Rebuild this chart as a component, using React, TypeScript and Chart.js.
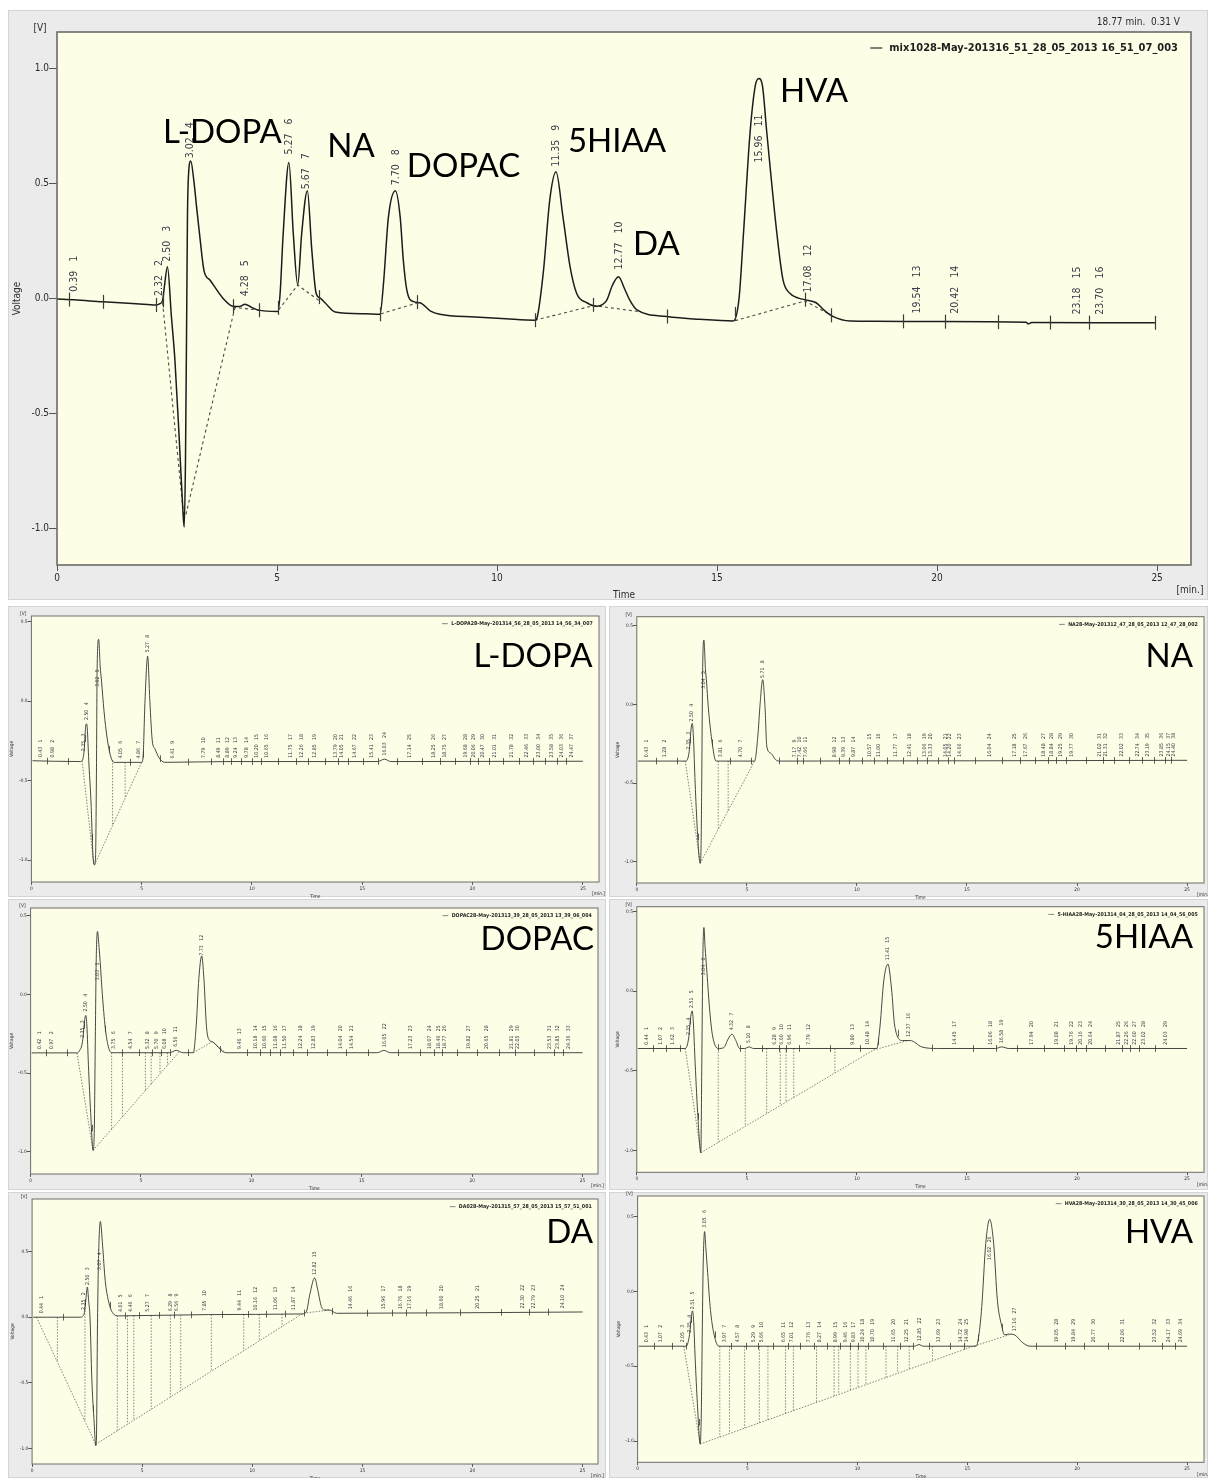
import React, { useEffect, useRef } from "react";
import { Chart, registerables } from "chart.js";

Chart.register(...registerables);

const COND = '"DejaVu Sans Condensed", "DejaVu Sans", sans-serif';
const NAME_FONT = 'Lato, "Open Sans", sans-serif';
const PANEL_BG = "#ebebeb";
const PLOT_BG = "#fefee7";
const INK = "#2b2b2b";

// Shared axis ticks: voltage [V] and retention time [min.]
const Y_TICKS = [-1.0, -0.5, 0.0, 0.5, 1.0];
const X_TICKS = [0, 5, 10, 15, 20, 25];

/* ---------- mixture run ---------- */
const MIX_TIME = [
  0.0, 0.39, 1.04, 1.8, 2.25, 2.34, 2.4, 2.44, 2.51, 2.6, 2.68, 2.78, 2.86, 2.89, 2.92,
  2.95, 2.965, 2.99, 3.04, 3.11, 3.17, 3.25, 3.34, 3.48, 3.77, 4.0, 4.15, 4.27, 4.42, 4.57, 5.02, 5.07, 5.14,
  5.27, 5.37, 5.47, 5.56, 5.69, 5.79, 5.89, 5.98, 6.09, 6.32, 7.0, 7.34, 7.42, 7.53, 7.69, 7.8, 7.87, 7.95,
  8.1, 8.25, 8.48, 8.7, 9.5, 10.2, 10.86, 10.9, 11.05, 11.2, 11.34, 11.5, 11.66, 11.81, 12.04, 12.27, 12.49,
  12.62, 12.76, 12.9, 13.02, 13.17, 13.86, 14.6, 15.37, 15.5, 15.6, 15.75, 15.87, 15.95, 16.03, 16.13, 16.36,
  16.5, 16.66, 16.85, 17.08, 17.25, 17.45, 17.64, 18.02, 18.6, 20.0, 22.02, 22.08, 22.15, 24.95,
];
const MIX_VOLT = [
  -0.004, -0.007, -0.016, -0.024, -0.03, -0.024, -0.01, 0.05, 0.136, -0.08, -0.27, -0.62, -0.92, -0.995, -0.7,
  0.0, 0.36, 0.54, 0.596, 0.51, 0.4, 0.26, 0.12, 0.078, 0.0, -0.035, -0.036, -0.026,
  -0.04, -0.052, -0.058, 0.02, 0.28, 0.59, 0.28, 0.057, 0.28, 0.467, 0.21, 0.02, 0.0, -0.02, -0.06, -0.068,
  -0.07, 0.065, 0.35, 0.467, 0.35, 0.165, 0.035, -0.015, -0.02, -0.055, -0.07, -0.082, -0.09, -0.096, -0.09,
  0.11, 0.43, 0.549, 0.35, 0.136, 0.02, -0.02, -0.035, -0.01, 0.055, 0.093, 0.04, -0.01, -0.05, -0.08,
  -0.092, -0.099, 0.0, 0.28, 0.72, 0.925, 0.955, 0.925, 0.72, 0.28, 0.078, 0.02, 0.0, -0.01, -0.02, -0.055,
  -0.08, -0.099, -0.1, -0.102, -0.105, -0.112, -0.106, -0.107,
];
const MIX_BASELINES = [
  [[2.4, -0.02], [2.89, -0.97]],
  [[2.93, -0.94], [4.05, -0.035]],
  [[4.0, -0.04], [4.6, -0.052]],
  [[5.04, -0.05], [5.47, 0.057], [5.95, -0.01]],
  [[7.36, -0.068], [8.2, -0.02]],
  [[10.86, -0.096], [12.2, -0.032], [13.2, -0.058]],
  [[15.41, -0.098], [17.0, -0.012], [17.5, -0.065]],
];
const MIX_MARKS = [
  0.28, 1.04, 2.25, 2.4, 4.0, 4.6, 5.03, 5.96, 7.34, 8.17, 10.86, 12.18, 13.86, 15.41, 17.0, 17.6, 19.22,
  20.18, 21.39, 22.57, 23.45, 24.95,
];
const MIX_PEAKS = [0.39, 2.32, 2.5, 3.02, 4.28, 5.27, 5.67, 7.7, 11.35, 12.77, 15.96, 17.08, 19.54, 20.42, 23.18, 23.7];
const MIX_PINNED = [[15.96, 0.59]];
const MIX_NAMES = ["L-DOPA", "NA", "DOPAC", "5HIAA", "DA", "HVA"];
const MIX_NAME_TIME = [2.41, 6.14, 7.95, 11.61, 13.09, 16.43];
const MIX_NAME_VOLT = [0.674, 0.613, 0.526, 0.635, 0.187, 0.852];

/* ---------- L-DOPA standard ---------- */
const LDOPA_TIME = [
  0.05, 1.0, 2.2, 2.3, 2.39, 2.46, 2.5, 2.53, 2.6, 2.7, 2.79, 2.86, 2.91, 2.95, 2.98, 3.05, 3.12, 3.17, 3.29,
  3.43, 3.61, 3.75, 4.3, 5.0, 5.06, 5.15, 5.27, 5.37, 5.48, 5.6, 5.78, 6.04, 9.0, 15.7, 16.0, 16.3, 25.0,
];
const LDOPA_VOLT = [
  -0.375, -0.378, -0.38, -0.375, -0.31, -0.16, -0.143, -0.165, -0.375, -0.63, -0.97, -1.03, -0.97, -0.42, 0.21,
  0.389, 0.215, 0.14, -0.06, -0.23, -0.355, -0.385, -0.385, -0.385, -0.355, 0.004, 0.283, 0.0, -0.25, -0.3,
  -0.355, -0.385, -0.38, -0.38, -0.365, -0.38, -0.378,
];
const LDOPA_BASELINES = [
  [[2.3, -0.375], [2.83, -1.03]],
  [[2.86, -1.03], [5.0, -0.385]],
];
const LDOPA_DROPS = [3.68, 4.25];
const LDOPA_PEAKS = [
  0.43, 0.98, 2.35, 2.5, 3.02, 4.05, 4.86, 5.27, 6.41, 7.79, 8.49, 8.89, 9.24, 9.78, 10.2, 10.65, 11.75, 12.26,
  12.85, 13.79, 14.05, 14.67, 15.41, 16.03, 17.14, 18.25, 18.75, 19.68, 20.06, 20.47, 21.01, 21.78, 22.46, 23.0,
  23.58, 24.03, 24.47,
];
const LDOPA_PINNED = [[3.02, 0.09]];

/* ---------- NA standard ---------- */
const NA_TIME = [
  0.05, 2.2, 2.38, 2.47, 2.52, 2.57, 2.65, 2.75, 2.83, 2.88, 2.92, 2.95, 2.99, 3.05, 3.12, 3.16, 3.25, 3.43, 3.6,
  5.35, 5.5, 5.6, 5.72, 5.82, 5.91, 6.09, 6.3, 6.45, 25.0,
];
const NA_VOLT = [
  -0.36, -0.36, -0.3, -0.15, -0.12, -0.2, -0.5, -0.8, -0.97, -1.01, -0.9, -0.5, 0.2, 0.41, 0.22, 0.16, -0.02,
  -0.25, -0.36, -0.36, -0.2, 0.0, 0.158, 0.0, -0.27, -0.31, -0.35, -0.36, -0.355,
];
const NA_BASELINES = [
  [[2.2, -0.36], [2.88, -1.01]],
  [[2.88, -1.01], [5.35, -0.36]],
];
const NA_DROPS = [3.7, 4.15];
const NA_PEAKS = [
  0.43, 1.28, 2.35, 2.5, 3.04, 3.81, 4.7, 5.71, 7.17, 7.42, 7.66, 8.98, 9.39, 9.87, 10.57, 11.0, 11.77, 12.41,
  13.06, 13.33, 14.05, 14.2, 14.66, 16.04, 17.18, 17.67, 18.48, 18.84, 19.25, 19.77, 21.02, 21.31, 22.02, 22.74,
  23.19, 23.85, 24.15, 24.4,
];
const NA_PINNED = [[3.04, 0.1]];

/* ---------- DOPAC standard ---------- */
const DOPAC_TIME = [
  0.05, 2.1, 2.2, 2.35, 2.45, 2.5, 2.55, 2.62, 2.72, 2.83, 2.88, 2.93, 2.97, 3.03, 3.1, 3.15, 3.25, 3.38, 3.5,
  3.67, 6.3, 6.6, 6.9, 7.37, 7.5, 7.62, 7.75, 7.85, 7.97, 8.1, 8.23, 8.4, 8.6, 8.84, 15.7, 16.0, 16.3, 25.0,
];
const DOPAC_VOLT = [
  -0.371, -0.371, -0.36, -0.3, -0.16, -0.133, -0.2, -0.45, -0.75, -0.99, -0.9, -0.3, 0.2, 0.4, 0.3, 0.21, 0.0,
  -0.21, -0.32, -0.37, -0.37, -0.355, -0.37, -0.37, -0.2, 0.1, 0.245, 0.1, -0.21, -0.29, -0.3, -0.32, -0.35,
  -0.37, -0.37, -0.355, -0.37, -0.37,
];
const DOPAC_BASELINES = [
  [[2.1, -0.371], [2.83, -0.99]],
  [[2.83, -0.99], [6.76, -0.36]],
  [[7.37, -0.37], [8.23, -0.3], [8.84, -0.37]],
];
const DOPAC_DROPS = [3.67, 4.16, 5.2, 5.46, 5.86, 6.2];
const DOPAC_PEAKS = [
  0.42, 0.97, 2.35, 2.5, 3.03, 3.75, 4.54, 5.32, 5.7, 6.08, 6.56, 7.73, 9.46, 10.18, 10.6, 11.08, 11.5, 12.24,
  12.83, 14.04, 14.54, 16.05, 17.23, 18.07, 18.46, 18.77, 19.82, 20.65, 21.81, 22.05, 23.53, 23.85, 24.36,
];
const DOPAC_PINNED = [[3.03, 0.09]];

/* ---------- 5-HIAA standard ---------- */
const HIAA_TIME = [
  0.05, 2.2, 2.35, 2.45, 2.52, 2.57, 2.65, 2.78, 2.91, 2.95, 3.0, 3.05, 3.1, 3.17, 3.3, 3.43, 3.7, 3.95, 4.15,
  4.32, 4.5, 4.67, 4.9, 5.1, 5.3, 10.9, 11.05, 11.22, 11.41, 11.57, 11.72, 12.07, 12.42, 12.95, 13.66, 16.3,
  16.57, 16.9, 25.0,
];
const HIAA_VOLT = [
  -0.36, -0.36, -0.3, -0.16, -0.124, -0.2, -0.45, -0.8, -1.015, -0.5, 0.2, 0.4, 0.28, 0.15, -0.1, -0.27, -0.36,
  -0.355, -0.3, -0.27, -0.31, -0.36, -0.36, -0.35, -0.36, -0.36, -0.22, 0.065, 0.17, 0.02, -0.22, -0.31, -0.31,
  -0.35, -0.36, -0.36, -0.35, -0.36, -0.36,
];
const HIAA_BASELINES = [
  [[2.2, -0.36], [2.91, -1.015]],
  [[2.91, -1.015], [10.75, -0.37], [12.3, -0.31]],
];
const HIAA_DROPS = [3.7, 4.93, 5.9, 6.52, 6.78, 7.13, 9.0];
const HIAA_PEAKS = [
  0.44, 1.07, 1.62, 2.35, 2.51, 3.04, 4.32, 5.1, 6.28, 6.6, 6.96, 7.79, 9.8, 10.48, 11.41, 12.37, 14.45, 16.06,
  16.58, 17.94, 19.08, 19.76, 20.16, 20.64, 21.87, 22.26, 22.6, 23.02, 24.03,
];
const HIAA_PINNED = [[3.04, 0.1]];

/* ---------- DA standard ---------- */
const DA_TIME = [
  0.05, 2.2, 2.37, 2.45, 2.51, 2.57, 2.63, 2.71, 2.82, 2.89, 2.92, 2.97, 3.02, 3.1, 3.2, 3.32, 3.46, 3.67, 3.93,
  8.0, 12.27, 12.45, 12.62, 12.83, 12.97, 13.14, 13.3, 13.5, 13.83, 25.0,
];
const DA_VOLT = [
  0.0, 0.0, 0.03, 0.15, 0.23, 0.12, 0.0, -0.46, -0.81, -0.98, -0.94, -0.05, 0.47, 0.73, 0.55, 0.28, 0.13, 0.03,
  0.01, 0.02, 0.025, 0.04, 0.18, 0.3, 0.21, 0.08, 0.055, 0.055, 0.03, 0.04,
];
const DA_BASELINES = [
  [[0.2, 0.0], [2.89, -0.97]],
  [[2.89, -0.97], [12.3, 0.03], [13.5, 0.055]],
];
const DA_DROPS = [1.15, 2.4, 3.87, 4.33, 4.62, 5.41, 6.28, 6.75, 8.14, 9.61, 10.32, 11.35];
const DA_PEAKS = [
  0.44, 2.35, 2.5, 3.07, 4.01, 4.46, 5.27, 6.29, 6.56, 7.85, 9.44, 10.16, 11.06, 11.87, 12.82, 14.46, 15.96,
  16.76, 17.16, 18.6, 20.25, 22.3, 22.79, 24.1,
];
const DA_PINNED = [[3.07, 0.36]];

/* ---------- HVA standard ---------- */
const HVA_TIME = [
  0.05, 2.2, 2.35, 2.45, 2.5, 2.55, 2.62, 2.72, 2.85, 2.9, 2.94, 2.98, 3.05, 3.1, 3.17, 3.3, 3.44, 3.7, 12.6,
  12.8, 13.0, 15.4, 15.52, 15.66, 15.84, 16.02, 16.2, 16.37, 16.55, 16.7, 16.9, 17.15, 17.5, 17.85, 25.0,
];
const HVA_VOLT = [
  -0.366, -0.366, -0.3, -0.16, -0.13, -0.2, -0.45, -0.75, -1.02, -0.8, -0.3, 0.15, 0.4, 0.3, 0.16, -0.1, -0.26,
  -0.366, -0.366, -0.355, -0.366, -0.366, -0.3, -0.1, 0.32, 0.482, 0.32, -0.06, -0.22, -0.29, -0.285, -0.29,
  -0.34, -0.366, -0.366,
];
const HVA_BASELINES = [
  [[2.1, -0.366], [2.85, -1.02]],
  [[2.85, -1.02], [15.2, -0.37], [16.9, -0.29]],
];
const HVA_DROPS = [3.74, 4.18, 4.87, 5.54, 5.93, 6.73, 7.09, 8.14, 8.94, 9.15, 9.68, 10.03, 10.39, 11.3, 11.83, 12.36, 13.42];
const HVA_PEAKS = [
  0.43, 1.07, 2.05, 2.35, 2.51, 3.05, 3.97, 4.57, 5.29, 5.66, 6.65, 7.01, 7.76, 8.27, 8.99, 9.46, 9.83, 10.24,
  10.7, 11.65, 12.25, 12.85, 13.69, 14.72, 14.98, 16.02, 17.16, 19.05, 19.84, 20.77, 22.06, 23.52, 24.17, 24.69,
];
const HVA_PINNED = [[16.02, 0.21]];

/* ---------- helpers ---------- */
function interp(ts: number[], vs: number[], t: number): number {
  if (t <= ts[0]) return vs[0];
  for (let i = 1; i < ts.length; i++) {
    if (t <= ts[i]) {
      const f = (t - ts[i - 1]) / (ts[i] - ts[i - 1]);
      return vs[i - 1] + f * (vs[i] - vs[i - 1]);
    }
  }
  return vs[vs.length - 1];
}

function baselineAt(lines: number[][][], t: number): number | null {
  let found: number | null = null;
  for (const line of lines) {
    for (let i = 1; i < line.length; i++) {
      const [t0, v0] = line[i - 1];
      const [t1, v1] = line[i];
      if (t >= t0 && t <= t1) found = v0 + ((t - t0) / (t1 - t0)) * (v1 - v0);
    }
  }
  return found;
}

type Panel = {
  key: string;
  panel: number[];
  canvas: number[];
  area: number[];
  xMax: number;
  yMin: number;
  yMax: number;
  time: number[];
  volt: number[];
  baselines: number[][][];
  drops: number[];
  marks: number[] | null;
  peaks: number[];
  pinned: number[][];
  legend: string;
  header?: string;
  names?: { text: string; t: number; v: number }[];
  name?: { text: string; dx: number; dy: number };
  s: number;
  labelSize: number;
  big: boolean;
};

const PANELS: Panel[] = [
  {
    key: "mix",
    panel: [8, 10, 1200, 590],
    canvas: [8, 8, 1200, 596],
    area: [57, 32, 1191, 565],
    xMax: 25.77,
    yMin: -1.16,
    yMax: 1.157,
    time: MIX_TIME,
    volt: MIX_VOLT,
    baselines: MIX_BASELINES,
    drops: [],
    marks: MIX_MARKS,
    peaks: MIX_PEAKS,
    pinned: MIX_PINNED,
    legend: "mix1028-May-201316_51_28_05_2013 16_51_07_003",
    header: "18.77 min.  0.31 V",
    names: MIX_NAMES.map((text, i) => ({ text, t: MIX_NAME_TIME[i], v: MIX_NAME_VOLT[i] })),
    s: 1,
    labelSize: 10.5,
    big: true,
  },
  {
    key: "ldopa",
    panel: [8, 606, 598, 291],
    canvas: [8, 603, 598, 298],
    area: [31.4, 616, 599, 882],
    xMax: 25.73,
    yMin: -1.138,
    yMax: 0.536,
    time: LDOPA_TIME,
    volt: LDOPA_VOLT,
    baselines: LDOPA_BASELINES,
    drops: LDOPA_DROPS,
    marks: null,
    peaks: LDOPA_PEAKS,
    pinned: LDOPA_PINNED,
    legend: "L-DOPA28-May-201314_56_28_05_2013 14_56_34_007",
    name: { text: "L-DOPA", dx: 6.5, dy: 50.7 },
    s: 0.48,
    labelSize: 5.2,
    big: false,
  },
  {
    key: "na",
    panel: [609, 606, 599, 291],
    canvas: [609, 603, 599, 298],
    area: [636.8, 616.7, 1204, 883],
    xMax: 25.77,
    yMin: -1.136,
    yMax: 0.559,
    time: NA_TIME,
    volt: NA_VOLT,
    baselines: NA_BASELINES,
    drops: NA_DROPS,
    marks: null,
    peaks: NA_PEAKS,
    pinned: NA_PINNED,
    legend: "NA28-May-201312_47_28_05_2013 12_47_28_002",
    name: { text: "NA", dx: 11, dy: 50 },
    s: 0.48,
    labelSize: 5.2,
    big: false,
  },
  {
    key: "dopac",
    panel: [8, 899, 598, 291],
    canvas: [8, 897, 598, 297],
    area: [30.6, 908, 598, 1174],
    xMax: 25.7,
    yMin: -1.14,
    yMax: 0.549,
    time: DOPAC_TIME,
    volt: DOPAC_VOLT,
    baselines: DOPAC_BASELINES,
    drops: DOPAC_DROPS,
    marks: null,
    peaks: DOPAC_PEAKS,
    pinned: DOPAC_PINNED,
    legend: "DOPAC28-May-201313_39_28_05_2013 13_39_06_004",
    name: { text: "DOPAC", dx: 4, dy: 42 },
    s: 0.48,
    labelSize: 5.2,
    big: false,
  },
  {
    key: "hiaa",
    panel: [609, 899, 599, 291],
    canvas: [609, 897, 599, 297],
    area: [636.8, 906.7, 1204, 1172.3],
    xMax: 25.77,
    yMin: -1.138,
    yMax: 0.531,
    time: HIAA_TIME,
    volt: HIAA_VOLT,
    baselines: HIAA_BASELINES,
    drops: HIAA_DROPS,
    marks: null,
    peaks: HIAA_PEAKS,
    pinned: HIAA_PINNED,
    legend: "5-HIAA28-May-201314_04_28_05_2013 14_04_56_005",
    name: { text: "5HIAA", dx: 11, dy: 41.3 },
    s: 0.48,
    labelSize: 5.2,
    big: false,
  },
  {
    key: "da",
    panel: [8, 1192, 598, 286],
    canvas: [8, 1189, 598, 289],
    area: [32.1, 1199, 598, 1464],
    xMax: 25.7,
    yMin: -1.12,
    yMax: 0.902,
    time: DA_TIME,
    volt: DA_VOLT,
    baselines: DA_BASELINES,
    drops: DA_DROPS,
    marks: null,
    peaks: DA_PEAKS,
    pinned: DA_PINNED,
    legend: "DA028-May-201315_57_28_05_2013 15_57_51_001",
    name: { text: "DA", dx: 5, dy: 44 },
    s: 0.48,
    labelSize: 5.2,
    big: false,
  },
  {
    key: "hva",
    panel: [609, 1192, 599, 286],
    canvas: [609, 1189, 599, 289],
    area: [637.6, 1196, 1204, 1462.3],
    xMax: 25.77,
    yMin: -1.142,
    yMax: 0.638,
    time: HVA_TIME,
    volt: HVA_VOLT,
    baselines: HVA_BASELINES,
    drops: HVA_DROPS,
    marks: null,
    peaks: HVA_PEAKS,
    pinned: HVA_PINNED,
    legend: "HVA28-May-201314_30_28_05_2013 14_30_45_006",
    name: { text: "HVA", dx: 11, dy: 47 },
    s: 0.48,
    labelSize: 5.2,
    big: false,
  },
];

function decorPlugin(p: Panel) {
  const s = p.s;
  const font = (px: number, bold = false) => `${bold ? "bold " : ""}${px}px ${COND}`;
  return {
    id: "decor-" + p.key,
    beforeDraw(chart: any) {
      const { ctx, chartArea: a } = chart;
      ctx.save();
      ctx.fillStyle = PLOT_BG;
      ctx.fillRect(a.left, a.top, a.right - a.left, a.bottom - a.top);
      ctx.restore();
    },
    afterDatasetsDraw(chart: any) {
      const { ctx, chartArea: a } = chart;
      const xs = chart.scales.x;
      const ys = chart.scales.y;
      const X = (t: number) => xs.getPixelForValue(t);
      const Y = (v: number) => ys.getPixelForValue(v);

      // integration window marks across the trace
      const marks = p.marks ?? p.peaks.slice(1).map((t, i) => (t + p.peaks[i]) / 2);
      ctx.save();
      ctx.beginPath();
      ctx.rect(a.left, a.top, a.right - a.left, a.bottom - a.top);
      ctx.clip();
      ctx.strokeStyle = "#3a3a3a";
      ctx.lineWidth = p.big ? 1.2 : 0.8;
      const half = 7 * s;
      marks.forEach((t) => {
        const x = Math.round(X(t)) + 0.5;
        const y = Y(interp(p.time, p.volt, t));
        ctx.beginPath();
        ctx.moveTo(x, y - half);
        ctx.lineTo(x, y + half);
        ctx.stroke();
      });
      ctx.restore();

      // retention time + peak number, written upwards
      ctx.save();
      ctx.fillStyle = "#3b3b47";
      ctx.font = font(p.labelSize);
      ctx.textAlign = "left";
      ctx.textBaseline = "middle";
      p.peaks.forEach((t, i) => {
        const pin = p.pinned.find((q) => q[0] === t);
        const y = pin ? Y(pin[1]) : Y(interp(p.time, p.volt, t)) - 8 * s;
        const x = X(t);
        const num = t.toFixed(2);
        ctx.save();
        ctx.translate(x, y);
        ctx.rotate(-Math.PI / 2);
        ctx.fillText(num, 0, 0);
        const w = ctx.measureText(num).width;
        ctx.fillText(String(i + 1), w + 9 * s, 0);
        ctx.restore();
      });
      ctx.restore();
    },
    afterDraw(chart: any) {
      const { ctx, chartArea: a } = chart;
      const xs = chart.scales.x;
      const ys = chart.scales.y;

      // plot frame
      ctx.save();
      ctx.strokeStyle = "#6c6c6c";
      ctx.lineWidth = p.big ? 1.6 : 1;
      ctx.strokeRect(a.left, a.top, a.right - a.left, a.bottom - a.top);
      ctx.restore();

      ctx.save();
      ctx.fillStyle = INK;

      // header readout
      if (p.header) {
        ctx.font = font(10 * s);
        ctx.textAlign = "right";
        ctx.textBaseline = "middle";
        ctx.fillText(p.header, a.right - 11 * s, a.top - 9.5 * s);
      }

      // legend entry
      ctx.font = font(11 * s, true);
      ctx.textAlign = "right";
      ctx.textBaseline = "middle";
      const lx = a.right - 13 * s;
      const ly = a.top + 16 * s;
      ctx.fillStyle = "#1e1e1e";
      ctx.fillText(p.legend, lx, ly);
      const lw = ctx.measureText(p.legend).width;
      ctx.strokeStyle = "#555";
      ctx.lineWidth = 1.5 * s;
      ctx.beginPath();
      ctx.moveTo(lx - lw - 19 * s, ly);
      ctx.lineTo(lx - lw - 7 * s, ly);
      ctx.stroke();

      // axis captions
      ctx.fillStyle = INK;
      ctx.font = font(10 * s);
      ctx.textAlign = "center";
      ctx.textBaseline = "middle";
      ctx.fillText("[V]", a.left - 17 * s, a.top - 4 * s);
      ctx.fillText("Time", (a.left + a.right) / 2, a.bottom + 30 * s);
      ctx.fillText("[min.]", a.right - 1 * s, a.bottom + 25 * s);
      ctx.save();
      ctx.translate(a.left - 40 * s, (a.top + a.bottom) / 2);
      ctx.rotate(-Math.PI / 2);
      ctx.fillText("Voltage", 0, 0);
      ctx.restore();

      // compound names
      ctx.fillStyle = "#000";
      ctx.font = `33px ${NAME_FONT}`;
      ctx.textBaseline = "alphabetic";
      if (p.names) {
        ctx.textAlign = "left";
        p.names.forEach((n) => ctx.fillText(n.text, xs.getPixelForValue(n.t), ys.getPixelForValue(n.v)));
      }
      if (p.name) {
        ctx.textAlign = "right";
        ctx.fillText(p.name.text, a.right - p.name.dx, a.top + p.name.dy);
      }
      ctx.restore();
    },
  };
}

function Chromatogram({ p }: { p: Panel }) {
  const ref = useRef<HTMLCanvasElement>(null);
  const [cl, ct, cw, ch] = p.canvas;

  useEffect(() => {
    const canvas = ref.current;
    if (!canvas) return;
    const [al, at, ar, ab] = p.area;
    const s = p.s;

    const trace = p.time.map((t, i) => ({ x: t, y: p.volt[i] }));
    const base: { x: number; y: number | null }[] = [];
    p.baselines.forEach((line) => {
      line.forEach(([t, v]) => base.push({ x: t, y: v }));
      base.push({ x: line[line.length - 1][0], y: null });
    });
    const drops: { x: number; y: number | null }[] = [];
    p.drops.forEach((t) => {
      const bot = baselineAt(p.baselines, t);
      if (bot === null) return;
      drops.push({ x: t, y: interp(p.time, p.volt, t) }, { x: t, y: bot }, { x: t, y: null });
    });

    const tickFont = { family: COND, size: 10 * s };

    const chart = new Chart(canvas, {
      type: "line",
      data: {
        datasets: [
          {
            data: trace,
            borderColor: p.big ? "#1c1c1c" : "#333",
            borderWidth: p.big ? 1.5 : 0.9,
            pointRadius: 0,
            cubicInterpolationMode: "monotone",
          },
          {
            data: base,
            borderColor: "#4a4a4a",
            borderWidth: p.big ? 1.1 : 0.7,
            borderDash: p.big ? [3, 3] : [1.5, 1.5],
            pointRadius: 0,
            spanGaps: false,
            tension: 0,
          },
          {
            data: drops,
            borderColor: "#555",
            borderWidth: 0.7,
            borderDash: [1.5, 1.5],
            pointRadius: 0,
            spanGaps: false,
            tension: 0,
          },
        ],
      } as any,
      options: {
        animation: false,
        responsive: false,
        devicePixelRatio: 1,
        events: [],
        layout: { padding: { left: 0, top: at - ct, right: cl + cw - ar, bottom: 0 } },
        plugins: { legend: { display: false }, tooltip: { enabled: false } },
        scales: {
          x: {
            type: "linear",
            min: 0,
            max: p.xMax,
            afterBuildTicks: (axis: any) => {
              axis.ticks = X_TICKS.map((v) => ({ value: v }));
            },
            afterFit: (axis: any) => {
              axis.height = ct + ch - ab;
            },
            ticks: {
              font: tickFont,
              color: INK,
              padding: 1,
              maxRotation: 0,
              autoSkip: false,
              callback: (v: any) => String(v),
            },
            grid: { drawOnChartArea: false, drawTicks: true, tickLength: 6 * s, color: "#555" },
            border: { display: false },
          },
          y: {
            type: "linear",
            min: p.yMin,
            max: p.yMax,
            afterBuildTicks: (axis: any) => {
              axis.ticks = Y_TICKS.filter((v) => v >= p.yMin && v <= p.yMax).map((v) => ({ value: v }));
            },
            afterFit: (axis: any) => {
              axis.width = al - cl;
            },
            ticks: {
              font: tickFont,
              color: INK,
              padding: 0,
              callback: (v: any) => Number(v).toFixed(1),
            },
            grid: { drawOnChartArea: false, drawTicks: true, tickLength: 8 * s, color: "#555" },
            border: { display: false },
          },
        },
      } as any,
      plugins: [decorPlugin(p) as any],
    });
    return () => chart.destroy();
  }, [p]);

  return (
    <canvas
      ref={ref}
      width={cw}
      height={ch}
      style={{ position: "absolute", left: cl, top: ct, width: cw, height: ch }}
    />
  );
}

export default function App() {
  return (
    <div
      style={{
        position: "absolute",
        left: 0,
        top: 0,
        width: 1208,
        height: 1478,
        background: "#ffffff",
        overflow: "hidden",
      }}
    >
      {PANELS.map((p) => (
        <div
          key={p.key + "-bg"}
          style={{
            position: "absolute",
            left: p.panel[0],
            top: p.panel[1],
            width: p.panel[2],
            height: p.panel[3],
            background: PANEL_BG,
            boxSizing: "border-box",
            border: "1px solid #d4d4d4",
          }}
        />
      ))}
      {PANELS.map((p) => (
        <Chromatogram key={p.key} p={p} />
      ))}
    </div>
  );
}
